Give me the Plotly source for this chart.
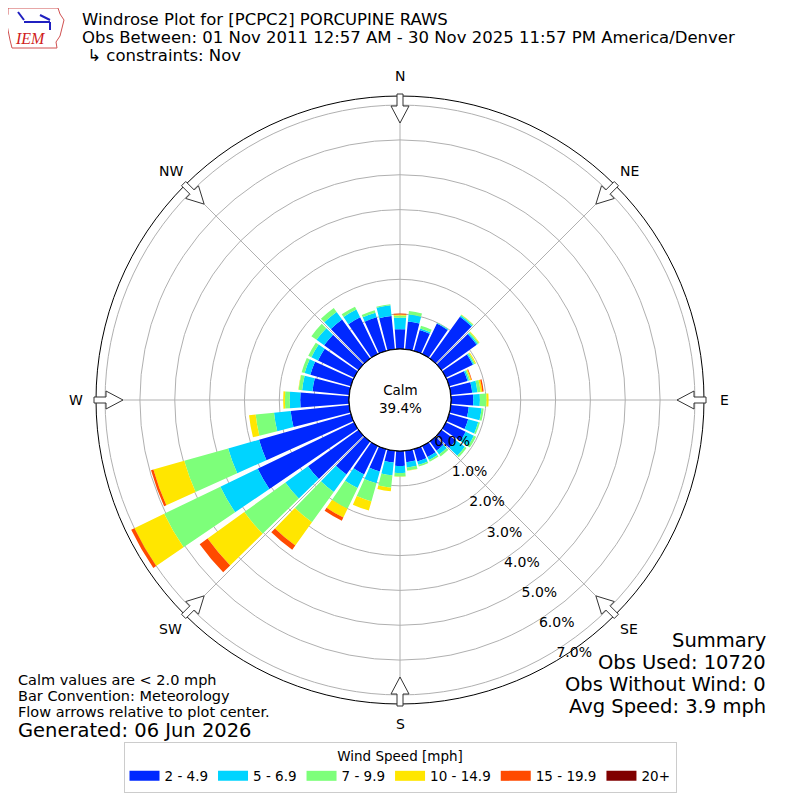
import math
import plotly.graph_objects as go

# wind direction bins (degrees, meteorological convention)
directions = [0, 10, 20, 30, 40, 50, 60, 70, 80, 90, 100, 110,
              120, 130, 140, 150, 160, 170, 180, 190, 200, 210, 220, 230,
              240, 250, 260, 270, 280, 290, 300, 310, 320, 330, 340, 350]

# frequency (%) per speed bin
spd_2_5 = [0.57, 0.80, 0.62, 0.97, 1.48, 1.25, 0.86, 0.55, 0.62, 0.64, 0.52, 0.57,
           0.63, 0.51, 0.33, 0.35, 0.37, 0.33, 0.43, 0.34, 0.67, 0.91, 1.17, 1.79,
           3.07, 2.74, 1.69, 1.40, 1.06, 1.21, 1.15, 1.22, 1.38, 1.17, 1.00, 0.96]
spd_5_7 = [0.33, 0.20, 0.05, 0.02, 0.04, 0.04, 0.03, 0.04, 0.15, 0.19, 0.37, 0.30,
           0.26, 0.32, 0.13, 0.10, 0.10, 0.15, 0.20, 0.37, 0.35, 0.43, 0.62, 0.80,
           1.19, 0.92, 0.48, 0.30, 0.30, 0.17, 0.21, 0.27, 0.27, 0.25, 0.14, 0.31]
spd_7_10 = [0.06, 0.10, 0.08, 0.01, 0.03, 0.04, 0.04, 0.04, 0.09, 0.19, 0.06, 0.05,
            0.07, 0.06, 0.07, 0.05, 0.05, 0.09, 0.10, 0.36, 0.54, 0.66, 1.07, 1.45,
            1.79, 1.31, 0.53, 0.14, 0.10, 0.09, 0.10, 0.18, 0.14, 0.09, 0.07, 0.03]
spd_10_15 = [0.03, 0.00, 0.00, 0.00, 0.01, 0.02, 0.03, 0.03, 0.05, 0.06, 0.00, 0.00,
             0.00, 0.00, 0.00, 0.00, 0.00, 0.01, 0.01, 0.10, 0.27, 0.28, 0.82, 1.30,
             0.95, 0.92, 0.19, 0.05, 0.01, 0.00, 0.00, 0.00, 0.00, 0.00, 0.00, 0.00]
spd_15_20 = [0.03, 0.00, 0.00, 0.00, 0.00, 0.00, 0.00, 0.02, 0.04, 0.00, 0.00, 0.00,
             0.00, 0.00, 0.00, 0.00, 0.00, 0.00, 0.00, 0.00, 0.00, 0.10, 0.15, 0.28,
             0.10, 0.07, 0.00, 0.00, 0.00, 0.00, 0.00, 0.00, 0.00, 0.00, 0.00, 0.00]
spd_20p = [0.0] * 36

bin_labels = ["2 - 4.9", "5 - 6.9", "7 - 9.9", "10 - 14.9", "15 - 19.9", "20+"]
bin_colors = ["#0028ff", "#00d4ff", "#7dff7a", "#ffe600", "#ff4a00", "#800000"]
bins = [spd_2_5, spd_5_7, spd_7_10, spd_10_15, spd_15_20, spd_20p]

radial_ticks = [0, 1, 2, 3, 4, 5, 6, 7]
compass_vals = [0, 45, 90, 135, 180, 225, 270, 315]
compass_text = ["N", "NE", "E", "SE", "S", "SW", "W", "NW"]

calm_pct = 39.4
W = H = 800
OFF = 8            # the page body adds an 8px margin, shift everything back
CX, CY, R = 400, 400, 304


def px(x, y):
    """target-image pixel -> paper coords"""
    return (x - OFF) / W, 1 - (y - OFF) / H


fig = go.Figure()

for vals, name, col in zip(bins, bin_labels, bin_colors):
    fig.add_trace(go.Barpolar(
        r=vals, theta=directions, width=8.5, name=name,
        legendgroup=name, showlegend=False,
        marker=dict(color=col, line=dict(width=0)),
        hovertemplate='%{theta}°: %{r:.2f}%<extra>' + name + '</extra>'
    ))

# legend-only entries so the swatches come out as wide bars like the original
for name, col in zip(bin_labels, bin_colors):
    fig.add_trace(go.Scatterpolar(
        r=[None], theta=[None], mode='lines', name=name, legendgroup=name,
        line=dict(color=col, width=10), hoverinfo='skip'
    ))

# black ring around the calm hole
ring = list(range(0, 361, 2))
fig.add_trace(go.Scatterpolar(
    r=[0] * len(ring), theta=ring, mode='lines',
    line=dict(color='black', width=1.2), showlegend=False, hoverinfo='skip'
))

# flow arrows at the rim
shapes = []
for ang in compass_vals:
    t = math.radians(ang)
    ux, uy = math.sin(t), -math.cos(t)
    vx, vy = math.cos(t), math.sin(t)

    def pt(r, w):
        return px(CX + r * ux + w * vx, CY + r * uy + w * vy)

    pts = [pt(306, -3), pt(294, -3), pt(294, -9), pt(277, 0),
           pt(294, 9), pt(294, 3), pt(306, 3)]
    path = "M " + " L ".join(f"{a:.5f},{b:.5f}" for a, b in pts) + " Z"
    shapes.append(dict(type='path', path=path, xref='paper', yref='paper',
                       fillcolor='white', line=dict(color='#333333', width=1)))

# rough IEM logo
logo = [(8, 8), (58, 8), (60, 14), (64, 20), (62, 28), (60, 36), (56, 42),
        (57, 48), (12, 48), (10, 40), (8, 30), (6, 20), (8, 14)]
lp = [px(x, y) for x, y in logo]
shapes.append(dict(type='path', xref='paper', yref='paper',
                   path="M " + " L ".join(f"{a:.5f},{b:.5f}" for a, b in lp) + " Z",
                   line=dict(color='#d05050', width=1), fillcolor='rgba(0,0,0,0)'))
for (x0, y0, x1, y1) in [(24, 22, 50, 22), (18, 12, 24, 20), (40, 15, 50, 20), (50, 22, 50, 30)]:
    a0, b0 = px(x0, y0)
    a1, b1 = px(x1, y1)
    shapes.append(dict(type='line', xref='paper', yref='paper', x0=a0, y0=b0, x1=a1, y1=b1,
                       line=dict(color='#2020c0', width=2)))

font = "DejaVu Sans, Verdana, sans-serif"
annots = []


def txt(x, y, s, size, anchor='left', color='black', family=font):
    x0, y0 = px(x, y)
    annots.append(dict(x=x0, y=y0, xref='paper', yref='paper', text=s, showarrow=False,
                       xanchor=anchor, yanchor='middle', align=anchor,
                       font=dict(size=size, color=color, family=family)))


txt(80, 19.5, "Windrose Plot for [PCPC2] PORCUPINE RAWS", 16.5)
txt(80, 37.5, "Obs Between: 01 Nov 2011 12:57 AM - 30 Nov 2025 11:57 PM America/Denver", 16.5)
txt(80, 55.5, " ↳ constraints: Nov", 16.5)
txt(13, 39, "<i>IEM</i>", 16, color='#d02020', family="Liberation Serif, serif")

txt(400, 399, f"Calm<br>{calm_pct}%", 13.5, anchor='center')

# compass labels just outside the rim
for ang, lab in zip(compass_vals, compass_text):
    t = math.radians(ang)
    txt(CX + 324 * math.sin(t), CY - 324 * math.cos(t), lab, 14, anchor='center')

txt(16, 680, "Calm values are < 2.0 mph", 14.5)
txt(16, 696, "Bar Convention: Meteorology", 14.5)
txt(16, 712, "Flow arrows relative to plot center.", 14.5)
txt(16, 730, "Generated: 06 Jun 2026", 19.5)

txt(768, 640, "Summary", 19.5, anchor='right')
txt(768, 662, "Obs Used: 10720", 19.5, anchor='right')
txt(768, 684, "Obs Without Wind: 0", 19.5, anchor='right')
txt(768, 706, "Avg Speed: 3.9 mph", 19.5, anchor='right')

dx0, dy0 = px(CX - R, CY + R)
dx1, dy1 = px(CX + R, CY - R)

fig.update_layout(
    width=W, height=H,
    margin=dict(l=0, r=0, t=0, b=0),
    paper_bgcolor='white',
    font=dict(family=font, size=13, color='black'),
    polar=dict(
        domain=dict(x=[dx0, dx1], y=[dy0, dy1]),
        hole=51 / R,
        bgcolor='white',
        barmode='stack',
        angularaxis=dict(
            rotation=90, direction='clockwise',
            tickmode='array', tickvals=compass_vals, ticktext=compass_text,
            showticklabels=False,
            ticks='', showline=True, linecolor='black', linewidth=1,
            gridcolor='#b0b0b0', gridwidth=1,
        ),
        radialaxis=dict(
            range=[0, 7.26], tickmode='array', tickvals=radial_ticks,
            ticktext=[f"{v:.1f}%" for v in radial_ticks],
            angle=-60, side='counterclockwise', tickangle=-60,
            showline=False, ticks='',
            gridcolor='#b0b0b0', gridwidth=1, tickfont=dict(size=14),
        ),
    ),
    legend=dict(
        orientation='h', x=(400 - OFF) / W, xanchor='center', y=1 - (742 - OFF) / H, yanchor='top',
        bordercolor='#cccccc', borderwidth=1, font=dict(size=13.5),
        title=dict(text='Wind Speed [mph]', side='top center', font=dict(size=13.5)),
        traceorder='normal',
    ),
    shapes=shapes,
    annotations=annots,
)

fig.write_html("out.html")
